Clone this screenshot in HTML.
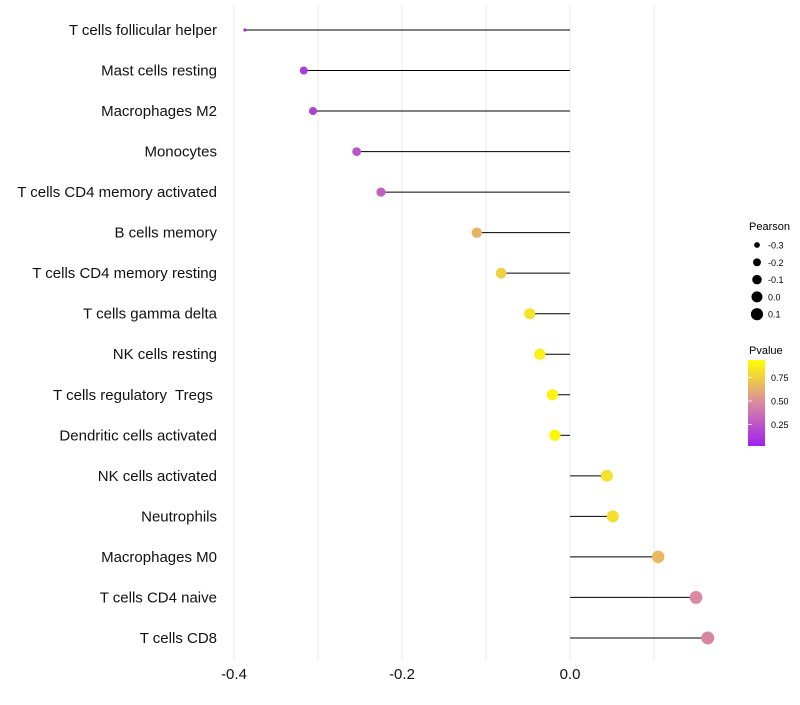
<!DOCTYPE html>
<html><head><meta charset="utf-8"><style>
body{margin:0;background:#fff;font-family:"Liberation Sans",sans-serif}
</style></head><body>
<svg id="chart" width="800" height="700" xmlns="http://www.w3.org/2000/svg">
<defs><linearGradient id="pg" x1="0" y1="1" x2="0" y2="0">
<stop offset="0" stop-color="#a020f0"/><stop offset="0.5" stop-color="#d98aa0"/><stop offset="1" stop-color="#ffff00"/>
</linearGradient></defs>
<g id="grid"></g><g id="marks"></g><g id="ylabels"></g><g id="xlabels"></g>
<g font-size="10">
<text x="749" y="230" font-size="11">Pearson</text>
<g id="sizeleg"></g>
<text x="749" y="354" font-size="11">Pvalue</text>
<rect x="748" y="360" width="17" height="86" fill="url(#pg)"/>
<g id="colleg"></g>
</g>
</svg>
<script>
const categories=["T cells follicular helper","Mast cells resting","Macrophages M2","Monocytes","T cells CD4 memory activated","B cells memory","T cells CD4 memory resting","T cells gamma delta","NK cells resting","T cells regulatory  Tregs ","Dendritic cells activated","NK cells activated","Neutrophils","Macrophages M0","T cells CD4 naive","T cells CD8"];
const pearson=[-0.387,-0.317,-0.306,-0.254,-0.225,-0.111,-0.082,-0.048,-0.036,-0.021,-0.018,0.044,0.051,0.105,0.150,0.164];
const pvalue=[0.05,0.12,0.14,0.25,0.3,0.68,0.8,0.88,0.93,0.95,0.97,0.87,0.86,0.7,0.5,0.48];
const xTicks=[-0.4,-0.2,0.0];
const xTickLabels=["-0.4","-0.2","0.0"];
const gridVals=[-0.4,-0.3,-0.2,-0.1,0.0,0.1];
const sizeLegend=[-0.3,-0.2,-0.1,0.0,0.1];
const sizeLegendLabels=["-0.3","-0.2","-0.1","0.0","0.1"];
const colTicks=[0.25,0.5,0.75];
const colTickLabels=["0.25","0.50","0.75"];
const NS="http://www.w3.org/2000/svg";
const x=v=>570+v*840;
const y=i=>30+i*40.53;
const r=v=>v<-0.36?1.6:Math.sqrt(Math.max(1,33+54*v));
const rl=v=>Math.sqrt(Math.max(1,30+72*v));
function col(p){const s=[[0,[160,32,240]],[0.5,[217,138,160]],[1,[255,255,0]]];let a=s[0],b=s[1];if(p>0.5){a=s[1];b=s[2];}const t=(p-a[0])/(b[0]-a[0]);const c=a[1].map((q,k)=>Math.round(q+(b[1][k]-q)*t));return `rgb(${c})`;}
function mk(tag,attrs,parent){const e=document.createElementNS(NS,tag);for(const k in attrs)e.setAttribute(k,attrs[k]);parent.appendChild(e);return e;}
const grid=document.getElementById('grid');
gridVals.forEach(v=>{const gl=mk('line',{x1:x(v),x2:x(v),y1:5,y2:660,stroke:'#ebebeb','stroke-width':1},grid);

});
const marks=document.getElementById('marks'),yl=document.getElementById('ylabels');
categories.forEach((c,i)=>{
const ln=mk('line',{x1:x(0),x2:x(pearson[i]),y1:y(i),y2:y(i),stroke:'#000','stroke-width':1},marks);


const pt=mk('circle',{cx:x(pearson[i]),cy:y(i),r:r(pearson[i]),fill:col(pvalue[i])},marks);


const t=mk('text',{x:217,y:y(i)+5,'text-anchor':'end','font-size':15,fill:'#111',style:'white-space:pre'},yl);t.textContent=c;


});
const xl=document.getElementById('xlabels');
xTicks.forEach((v,i)=>{const t=mk('text',{x:x(v),y:679,'text-anchor':'middle','font-size':15,fill:'#111'},xl);t.textContent=xTickLabels[i];

});
const sl=document.getElementById('sizeleg');
sizeLegend.forEach((v,i)=>{const yy=245+i*17.3;
const c=mk('circle',{cx:757,cy:yy,r:rl(v),fill:'#000'},sl);


const t=mk('text',{x:768,y:yy+3.5,'font-size':9},sl);t.textContent=sizeLegendLabels[i];

});
const cl=document.getElementById('colleg');
colTicks.forEach((v,i)=>{const yy=448-v*94;
const tk=mk('line',{x1:748,x2:752,y1:yy,y2:yy,stroke:'#fff','stroke-width':0.8},cl);


const t=mk('text',{x:771,y:yy+3.5,'font-size':9},cl);t.textContent=colTickLabels[i];

});
</script>
</body></html>
